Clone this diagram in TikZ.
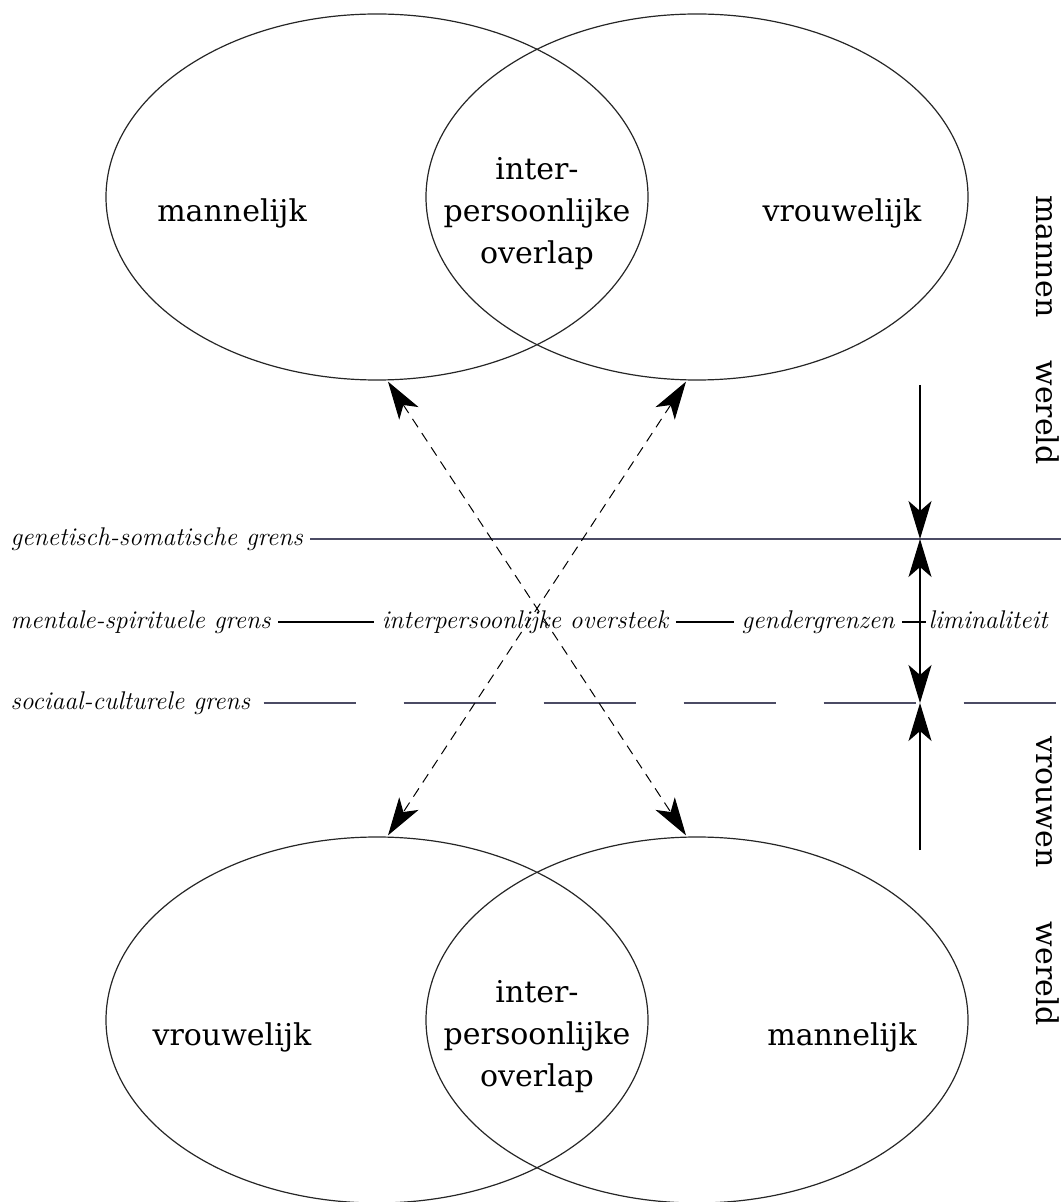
\documentclass[tikz,border=0pt]{standalone}
\usepackage{fontspec}
\newfontfamily\slabserif{DejaVu Serif}
\usetikzlibrary{arrows.meta,shapes.geometric}
\definecolor{grensline}{RGB}{75,75,100}

\begin{document}
\begin{tikzpicture}[x=0.5pt,y=-0.5pt,
 oval/.style={draw=black!85,ellipse,inner sep=0pt,minimum width=271pt,minimum height=183pt},
 word/.style={font=\slabserif\fontsize{15}{21}\selectfont,align=center,inner sep=0pt},
 grens/.style={font=\fontsize{12.8}{15}\selectfont\itshape,inner xsep=3.5pt,inner ysep=0pt,text height=9pt,text depth=2.5pt},
 crossing/.style={dash pattern=on 5pt off 3.5pt,line width=.5pt},
 >={Stealth[length=19pt,width=11.5pt,inset=5pt]},
 every path/.style={line width=.6pt}]
\useasboundingbox (0,0) rectangle (1061,1202);
\node[oval] (topL) at (377,197) {};
\node[oval] (topR) at (697,197) {};
\node[oval] (botL) at (377,1020) {};
\node[oval] (botR) at (697,1020) {};
\node[word,anchor=base] (topLtxt) at (232,222) {mannelijk};
\node[word] (topMid) at (537,214) {inter-\\persoonlijke\\overlap};
\node[word,anchor=base] (topRtxt) at (842,222) {vrouwelijk};
\node[word,anchor=base] (botLtxt) at (232,1045) {vrouwelijk};
\node[word] (botMid) at (537,1037) {inter-\\persoonlijke\\overlap};
\node[word,anchor=base] (botRtxt) at (842,1045) {mannelijk};
\node[word,rotate=-90,anchor=base] (menWorld) at (1036,330) {mannen\hspace{21.5pt}wereld};
\node[word,rotate=-90,anchor=base] (vrWorld) at (1036,881) {vrouwen\hspace{27pt}wereld};
\node[grens,anchor=west] (gen) at (3,539) {genetisch-somatische grens};
\node[grens,anchor=west] (ment) at (3,622) {mentale-spirituele grens};
\node[grens,anchor=west] (soc) at (3,703) {sociaal-culturele grens};
\node[grens] (overst) at (525,622) {interpersoonlijke oversteek};
\node[grens] (gender) at (818,622) {gendergrenzen};
\node[grens,anchor=west,inner xsep=1pt] (limin) at (926,622) {liminaliteit};
\coordinate (genEnd) at (1061,539);
\coordinate (socEnd) at (1061,703);
\coordinate (vTop) at (920,385);
\coordinate (vBot) at (920,850);
\coordinate (genX) at (920,539);
\coordinate (mentX) at (920,622);
\coordinate (socX) at (920,703);
\draw[grensline] (gen.east) -- (genEnd);
\draw (ment.east) -- (overst.west);
\draw (overst.east) -- (gender.west);
\draw (gender.east) -- (limin.west);
\draw[grensline,dash pattern=on 46pt off 24pt] ([xshift=3pt]soc.east) -- (socEnd);
\draw[->] (vTop) -- (genX);
\draw[->] (mentX) -- (genX);
\draw[->] (mentX) -- (socX);
\draw[->] (vBot) -- (socX);
\draw[crossing,<->] ([shift={(11,1)}]topL.south) -- ([shift={(-11,-1)}]botR.north);
\draw[crossing,<->] ([shift={(-11,1)}]topR.south) -- ([shift={(11,-1)}]botL.north);
\end{tikzpicture}
\end{document}
